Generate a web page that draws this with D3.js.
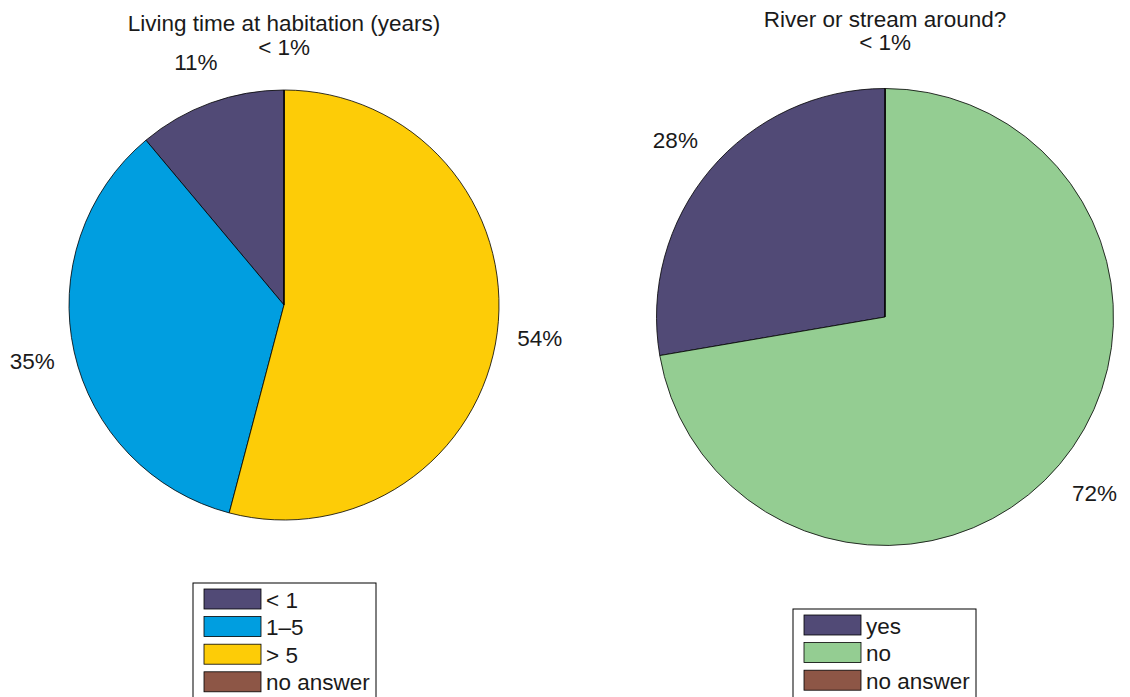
<!DOCTYPE html>
<html><head><meta charset="utf-8">
<script src="https://cdn.jsdelivr.net/npm/d3@7"></script>
<style>body{margin:0;background:#fff}svg{display:block;font-family:"Liberation Sans",Arial,sans-serif}</style>
</head><body>
<svg id="c" width="1130" height="697"></svg>
<script>
const title1 = "Living time at habitation (years)";
const categories1 = ["< 1", "1\u20135", "> 5", "no answer"];
const values1 = [11.1, 34.8, 54.08, 0.02];
const labels1 = ["11%", "35%", "54%", "< 1%"];
const colors1 = ["#514a76", "#009ee0", "#fdcc07", "#8d5646"];

const title2 = "River or stream around?";
const categories2 = ["yes", "no", "no answer"];
const values2 = [27.7, 72.28, 0.02];
const labels2 = ["28%", "72%", "< 1%"];
const colors2 = ["#514a76", "#94cd92", "#8d5646"];

const svg = d3.select("#c");
const FS = 22.5;

function drawPie(cfg) {
  const g = svg.append("g").attr("transform", `translate(${cfg.cx},${cfg.cy})`);
  const pie = d3.pie().sort(null).value(d => d)
    .startAngle(0).endAngle(-2 * Math.PI);
  const arcs = pie(cfg.values);
  const arc = d3.arc().innerRadius(0).outerRadius(cfg.r);
  g.selectAll("path.s").data(arcs).join("path")
    .attr("class", "s")
    .attr("d", arc)
    .attr("fill", (d, i) => cfg.colors[i])
    .attr("stroke", "#000").attr("stroke-width", 0.8);
  const lr = cfg.r * 1.2;
  g.selectAll("text.l").data(arcs).join("text")
    .attr("class", "l")
    .attr("x", d => lr * Math.sin((d.startAngle + d.endAngle) / 2))
    .attr("y", d => -lr * Math.cos((d.startAngle + d.endAngle) / 2))
    .attr("text-anchor", "middle").attr("dominant-baseline", "central")
    .attr("font-size", FS).attr("fill", "#1a1a1a")
    .text((d, i) => cfg.labels[i]);
  svg.append("text").attr("x", cfg.cx).attr("y", cfg.titleY)
    .attr("text-anchor", "middle").attr("font-size", FS).attr("fill", "#1a1a1a")
    .text(cfg.title);
  // legend
  const lg = svg.append("g");
  const n = cfg.categories.length;
  lg.append("rect").attr("x", cfg.lx).attr("y", cfg.ly)
    .attr("width", cfg.lw).attr("height", 10 + n * cfg.step + 40)
    .attr("fill", "#fff").attr("stroke", "#000").attr("stroke-width", 1);
  const rows = lg.selectAll("g.r").data(cfg.categories).join("g")
    .attr("transform", (d, i) => `translate(${cfg.lx + 11},${cfg.ly + 6 + i * cfg.step})`);
  rows.append("rect").attr("width", 57).attr("height", 20)
    .attr("fill", (d, i) => cfg.colors[i]).attr("stroke", "#000").attr("stroke-width", 0.8);
  rows.append("text").attr("x", 62).attr("y", 11).attr("dominant-baseline", "central")
    .attr("font-size", FS).attr("fill", "#1a1a1a").text(d => d);
}

drawPie({cx: 284, cy: 305, r: 215, values: values1, colors: colors1, labels: labels1,
  title: title1, titleY: 31, categories: categories1, lx: 193, ly: 583, lw: 183, step: 27.6});
drawPie({cx: 885, cy: 317, r: 228.5, values: values2, colors: colors2, labels: labels2,
  title: title2, titleY: 27, categories: categories2, lx: 793, ly: 609, lw: 183, step: 27.6});
</script>
</body></html>
